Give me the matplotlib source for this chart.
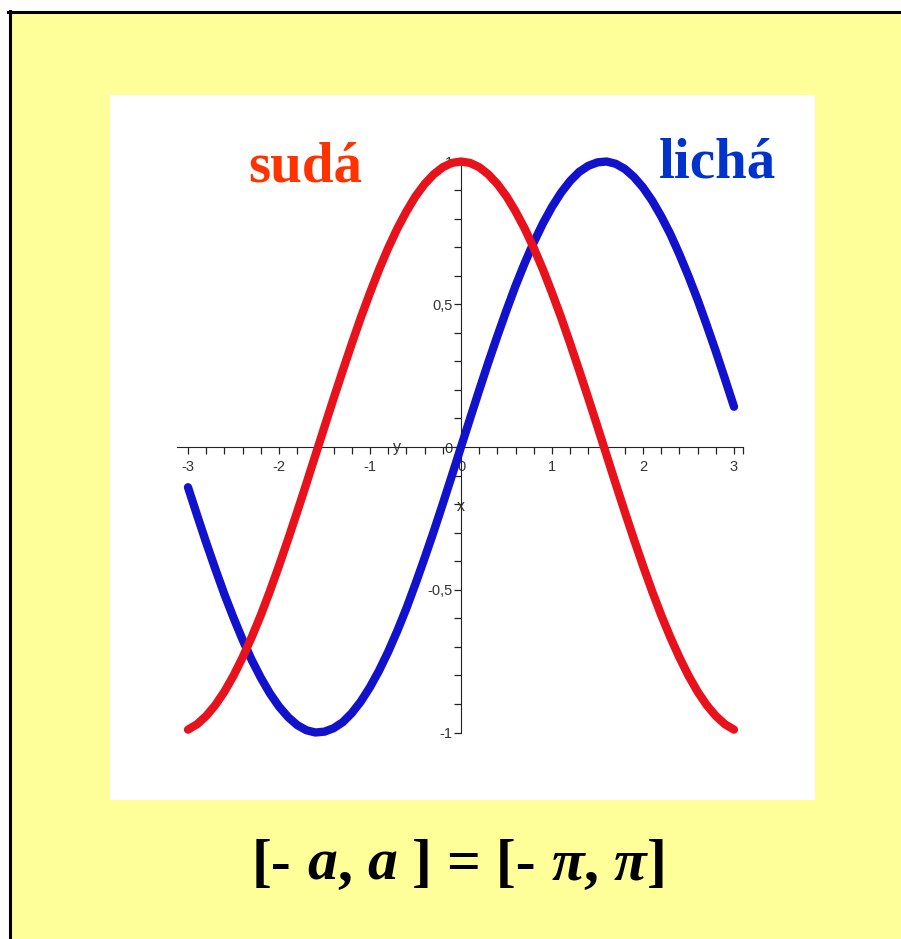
import matplotlib.pyplot as plt
from matplotlib.patches import Rectangle
from matplotlib.lines import Line2D

# values (x step 0.1)
x_vals = [-3.0, -2.9, -2.8, -2.7, -2.6, -2.5, -2.4, -2.3, -2.2, -2.1,
          -2.0, -1.9, -1.8, -1.7, -1.6, -1.5, -1.4, -1.3, -1.2, -1.1,
          -1.0, -0.9, -0.8, -0.7, -0.6, -0.5, -0.4, -0.3, -0.2, -0.1,
          0.0, 0.1, 0.2, 0.3, 0.4, 0.5, 0.6, 0.7, 0.8, 0.9,
          1.0, 1.1, 1.2, 1.3, 1.4, 1.5, 1.6, 1.7, 1.8, 1.9,
          2.0, 2.1, 2.2, 2.3, 2.4, 2.5, 2.6, 2.7, 2.8, 2.9, 3.0]

# even function (red)
suda = [-0.990, -0.971, -0.942, -0.904, -0.857, -0.801, -0.737, -0.666, -0.589, -0.505,
        -0.416, -0.323, -0.227, -0.129, -0.029, 0.071, 0.170, 0.267, 0.362, 0.454,
        0.540, 0.622, 0.697, 0.765, 0.825, 0.878, 0.921, 0.955, 0.980, 0.995,
        1.000, 0.995, 0.980, 0.955, 0.921, 0.878, 0.825, 0.765, 0.697, 0.622,
        0.540, 0.454, 0.362, 0.267, 0.170, 0.071, -0.029, -0.129, -0.227, -0.323,
        -0.416, -0.505, -0.589, -0.666, -0.737, -0.801, -0.857, -0.904, -0.942, -0.971, -0.990]

# odd function (blue)
licha = [-0.141, -0.239, -0.335, -0.427, -0.516, -0.598, -0.675, -0.746, -0.808, -0.863,
         -0.909, -0.946, -0.974, -0.992, -1.000, -0.997, -0.985, -0.964, -0.932, -0.891,
         -0.841, -0.783, -0.717, -0.644, -0.565, -0.479, -0.389, -0.296, -0.199, -0.100,
         0.000, 0.100, 0.199, 0.296, 0.389, 0.479, 0.565, 0.644, 0.717, 0.783,
         0.841, 0.891, 0.932, 0.964, 0.985, 0.997, 1.000, 0.992, 0.974, 0.946,
         0.909, 0.863, 0.808, 0.746, 0.675, 0.598, 0.516, 0.427, 0.335, 0.239, 0.141]

x_ticks = [-3, -2, -1, 0, 1, 2, 3]
x_labels = ['-3', '-2', '-1', '0', '1', '2', '3']
y_ticks = [-1, -0.5, 0, 0.5, 1]
y_labels = ['-1', '-0,5', '0', '0,5', '1']

W, H = 901, 939
fig = plt.figure(figsize=(W / 100, H / 100), dpi=100, facecolor='white')

# yellow slide background with black border on left/top
fig.patches.append(Rectangle((10 / W, 0), 1, 1 - 13 / H, transform=fig.transFigure,
                             facecolor='#ffff99', edgecolor='none', zorder=-2))
fig.lines.append(Line2D([9.5 / W, 9.5 / W], [0, 1 - 11 / H], transform=fig.transFigure,
                        color='black', lw=2.2, zorder=-1))
fig.lines.append(Line2D([8 / W, 1], [1 - 12 / H, 1 - 12 / H], transform=fig.transFigure,
                        color='black', lw=2.2, zorder=-1))

# white plot box
ax = fig.add_axes([110 / W, 1 - 800 / H, 705 / W, 705 / H])
ax.set_facecolor('white')
ax.set_xlim((110 - 461) / 91, (815 - 461) / 91)
ax.set_ylim((447 - 800) / 285.5, (447 - 95) / 285.5)

ax.plot(x_vals, licha, color='#1212cc', lw=6, solid_capstyle='round',
        solid_joinstyle='round', zorder=3)
ax.plot(x_vals, suda, color='#e8121c', lw=6, solid_capstyle='round',
        solid_joinstyle='round', zorder=4)

for s in ['top', 'right']:
    ax.spines[s].set_visible(False)
ax.spines['left'].set_position(('data', 0))
ax.spines['bottom'].set_position(('data', 0))
ax.spines['bottom'].set_bounds(-3.12, 3.1)
ax.spines['left'].set_bounds(-1, 1)
ax.spines['left'].set_color('#222222')
ax.spines['bottom'].set_color('#222222')

ax.set_xticks(x_ticks)
ax.set_xticklabels(x_labels)
ax.set_xticks([i / 5 for i in range(-15, 16)] + [3.1], minor=True)
ax.set_yticks(y_ticks)
ax.set_yticklabels(y_labels)
ax.set_yticks([i / 10 for i in range(-10, 11)], minor=True)
ax.tick_params(which='both', direction='out', length=5, width=0.9, color='#222222')
ax.tick_params(axis='x', labelsize=10.5, pad=4, labelcolor='#333333')
ax.tick_params(axis='y', labelsize=10.5, pad=1, labelcolor='#333333')
for lab in ax.get_xticklabels() + ax.get_yticklabels():
    lab.set_family('Liberation Sans')

ax.text(-0.7, 0.0, 'y', fontsize=11.5, color='#333333', ha='center', va='center',
        family='Liberation Sans')
ax.text(0.0, -0.21, 'x', fontsize=11.5, color='#333333', ha='center', va='center',
        family='Liberation Sans')

fig.text(305 / W, 1 - 181 / H, 'sudá', ha='center', va='baseline', fontsize=41,
         fontweight='bold', family='Liberation Serif', color='#ff3300')
fig.text(718 / W, 1 - 177 / H, 'lichá', ha='center', va='baseline', fontsize=41,
         fontweight='bold', family='Liberation Serif', color='#0033cc')

# bottom formula, pieces chained left to right
pieces = [('[-', 'normal', 0), ('a', 'italic', 11), (',', 'normal', 0),
          ('a', 'italic', 11), ('] = [-', 'normal', 11), ('π', 'italic', 11),
          (',', 'normal', 0), ('π', 'italic', 11), (']', 'normal', 0)]
prev = fig.text(252 / W, 1 - 880 / H, pieces[0][0], ha='left', va='baseline',
                fontsize=43, fontweight='bold', family='Liberation Serif')
for txt, style, gap in pieces[1:]:
    prev = ax.annotate(txt, xy=(1, 0), xycoords=prev, xytext=(gap, 0),
                       textcoords='offset points', ha='left', va='bottom',
                       fontsize=43, fontweight='bold', fontstyle=style,
                       family='Liberation Serif', annotation_clip=False)

fig.savefig('out.png', dpi=100, facecolor=fig.get_facecolor())
